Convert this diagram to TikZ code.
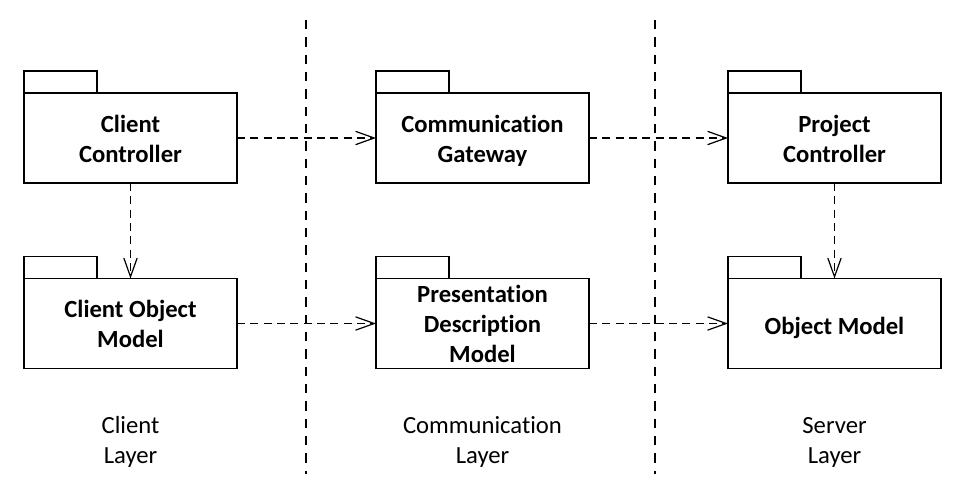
\documentclass[tikz,border=0pt]{standalone}
\usepackage{fontspec}
\setmainfont{Carlito}[Ligatures=NoCommon]
\usetikzlibrary{arrows.meta}
\begin{document}
\begin{tikzpicture}[x=0.75pt,y=-0.75pt,
    pkg/.style={draw, line width=1.1pt, minimum width=159.75pt, minimum height=67.5pt,
      inner sep=0pt, outer sep=0pt},
    pkgtext/.style={align=center, inner sep=0pt, yshift=-3.75pt,
      font=\fontsize{18.5}{22.5}\selectfont\bfseries, execute at end node=\strut},
    dep/.style={line width=0.9pt, dash pattern=on 6pt off 4pt, -{Straight Barb[length=14pt,width=10pt,line width=0.9pt]}},
    divider/.style={line width=0.9pt, dash pattern=on 7pt off 6pt},
    layer/.style={align=center, font=\fontsize{18.5}{22.5}\selectfont}]
  \useasboundingbox (0,0) rectangle (963,496);

  % Packages
  \foreach \x/\y/\name/\txt in {130.5/138/client/{Client\\Controller},
                                482.5/138/gateway/{Communication\\Gateway},
                                834.5/138/project/{Project\\Controller},
                                130.5/323.5/clientmodel/{Client Object\\Model},
                                482.5/323.5/presmodel/{Presentation\\Description\\Model},
                                834.5/323.5/objmodel/{Object Model}} {
    \node[pkg, label={[pkgtext]center:\txt}] (\name) at (\x,\y) {};
    \draw[line width=1.1pt] (\name.north west) rectangle ++(73,-22);
  }

  % Dependencies
  \draw[dep] (client) -- (gateway);
  \draw[dep] (gateway) -- (project);
  \draw[dep] (clientmodel) -- (presmodel);
  \draw[dep] (presmodel) -- (objmodel);
  \draw[dep] (client) -- (clientmodel);
  \draw[dep] (project) -- (objmodel);

  % Layer borders
  \draw[divider] (306,20) -- (306,474);
  \draw[divider] (655,20) -- (655,474);

  % Labels
  \node[layer] (clientlayer) at (130.5,442) {Client\\Layer};
  \node[layer] (commlayer) at (482.5,442) {Communication\\Layer};
  \node[layer] (serverlayer) at (834.5,442) {Server\\Layer};
\end{tikzpicture}
\end{document}
